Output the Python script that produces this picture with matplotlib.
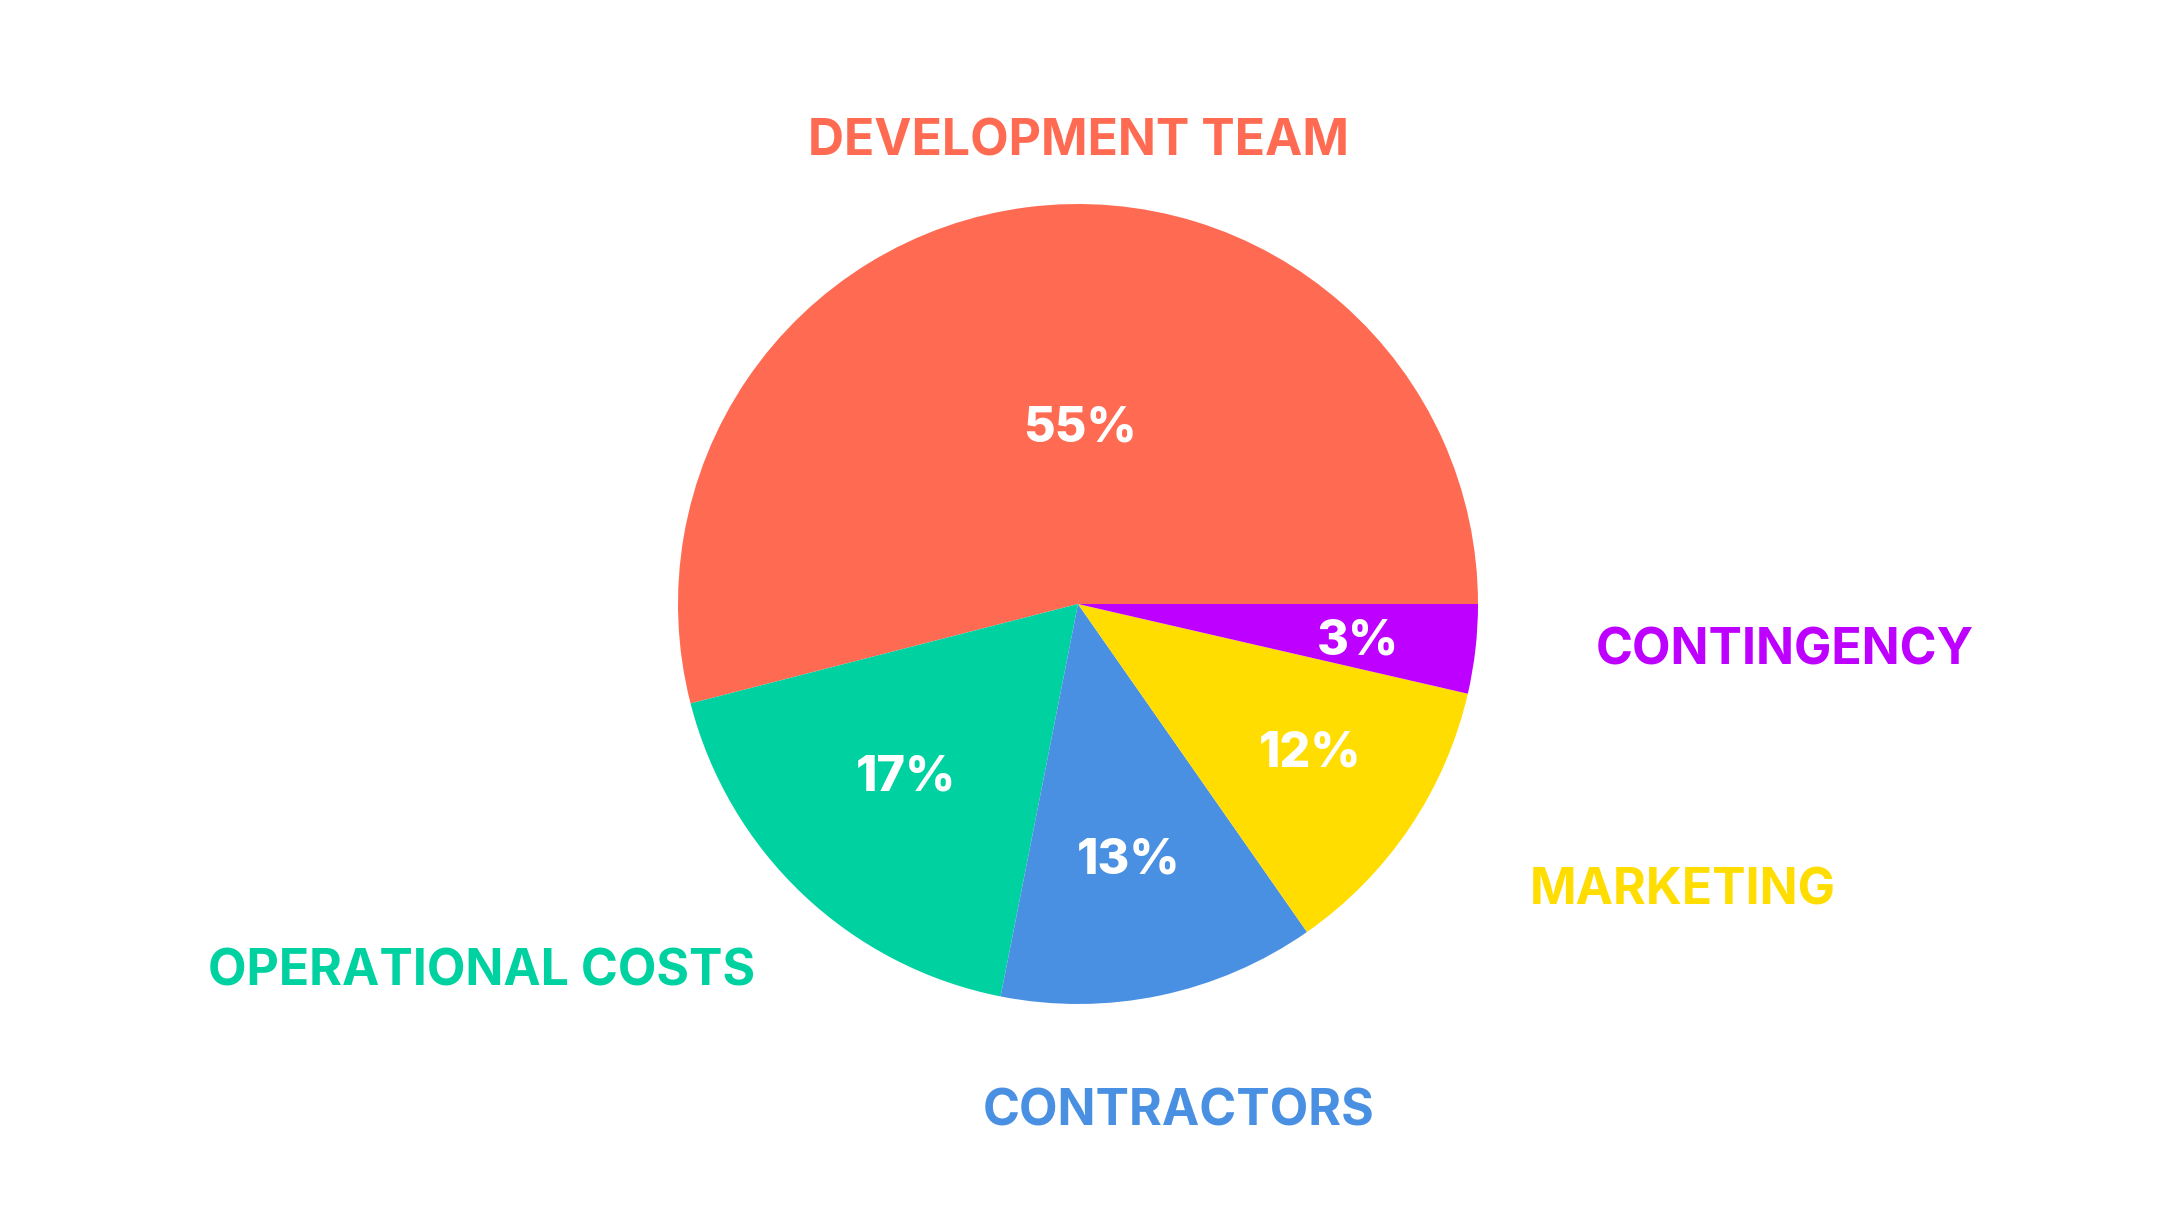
import matplotlib
matplotlib.use("Agg")
import matplotlib.pyplot as plt

# budget allocation (shares, labels as printed)
categories = ["DEVELOPMENT TEAM", "OPERATIONAL COSTS", "CONTRACTORS", "MARKETING", "CONTINGENCY"]
shares = [54.0, 17.9, 12.8, 11.7, 3.6]
pct_labels = ["55%", "17%", "13%", "12%", "3%"]
colors = ["#FF6B52", "#00D1A0", "#4A90E2", "#FFDD00", "#BD00FF"]

# text placement in pie units (radius = 1)
pct_pos = [(0.005, 0.44), (-0.43, -0.434), (0.126, -0.641), (0.579, -0.373), (0.70, -0.094)]
name_pos = [(0.0, 1.156), (-1.49, -0.921), (0.2525, -1.27), (1.511, -0.718), (1.768, -0.118)]

plt.rcParams['font.family'] = ['Inter', 'DejaVu Sans']

fig = plt.figure(figsize=(21.58, 12.10), dpi=100)
ax = fig.add_axes([0, 0, 1, 1])

ax.pie(shares, colors=colors, startangle=0, counterclock=True, radius=1,
       center=(0, 0), frame=False, wedgeprops=dict(linewidth=0))
ax.set_xlim(-2.695, 2.7)
ax.set_ylim(-1.515, 1.51)
ax.set_aspect('auto')
ax.axis('off')

for (x, y), txt in zip(pct_pos, pct_labels):
    ax.text(x, y, txt, ha='center', va='center', color='white',
            fontsize=35, fontweight='heavy')

for (x, y), name, c in zip(name_pos, categories, colors):
    ax.text(x, y, name, ha='center', va='center', color=c,
            fontsize=36, fontweight='bold')

fig.savefig("out.png", dpi=100, facecolor='white')
